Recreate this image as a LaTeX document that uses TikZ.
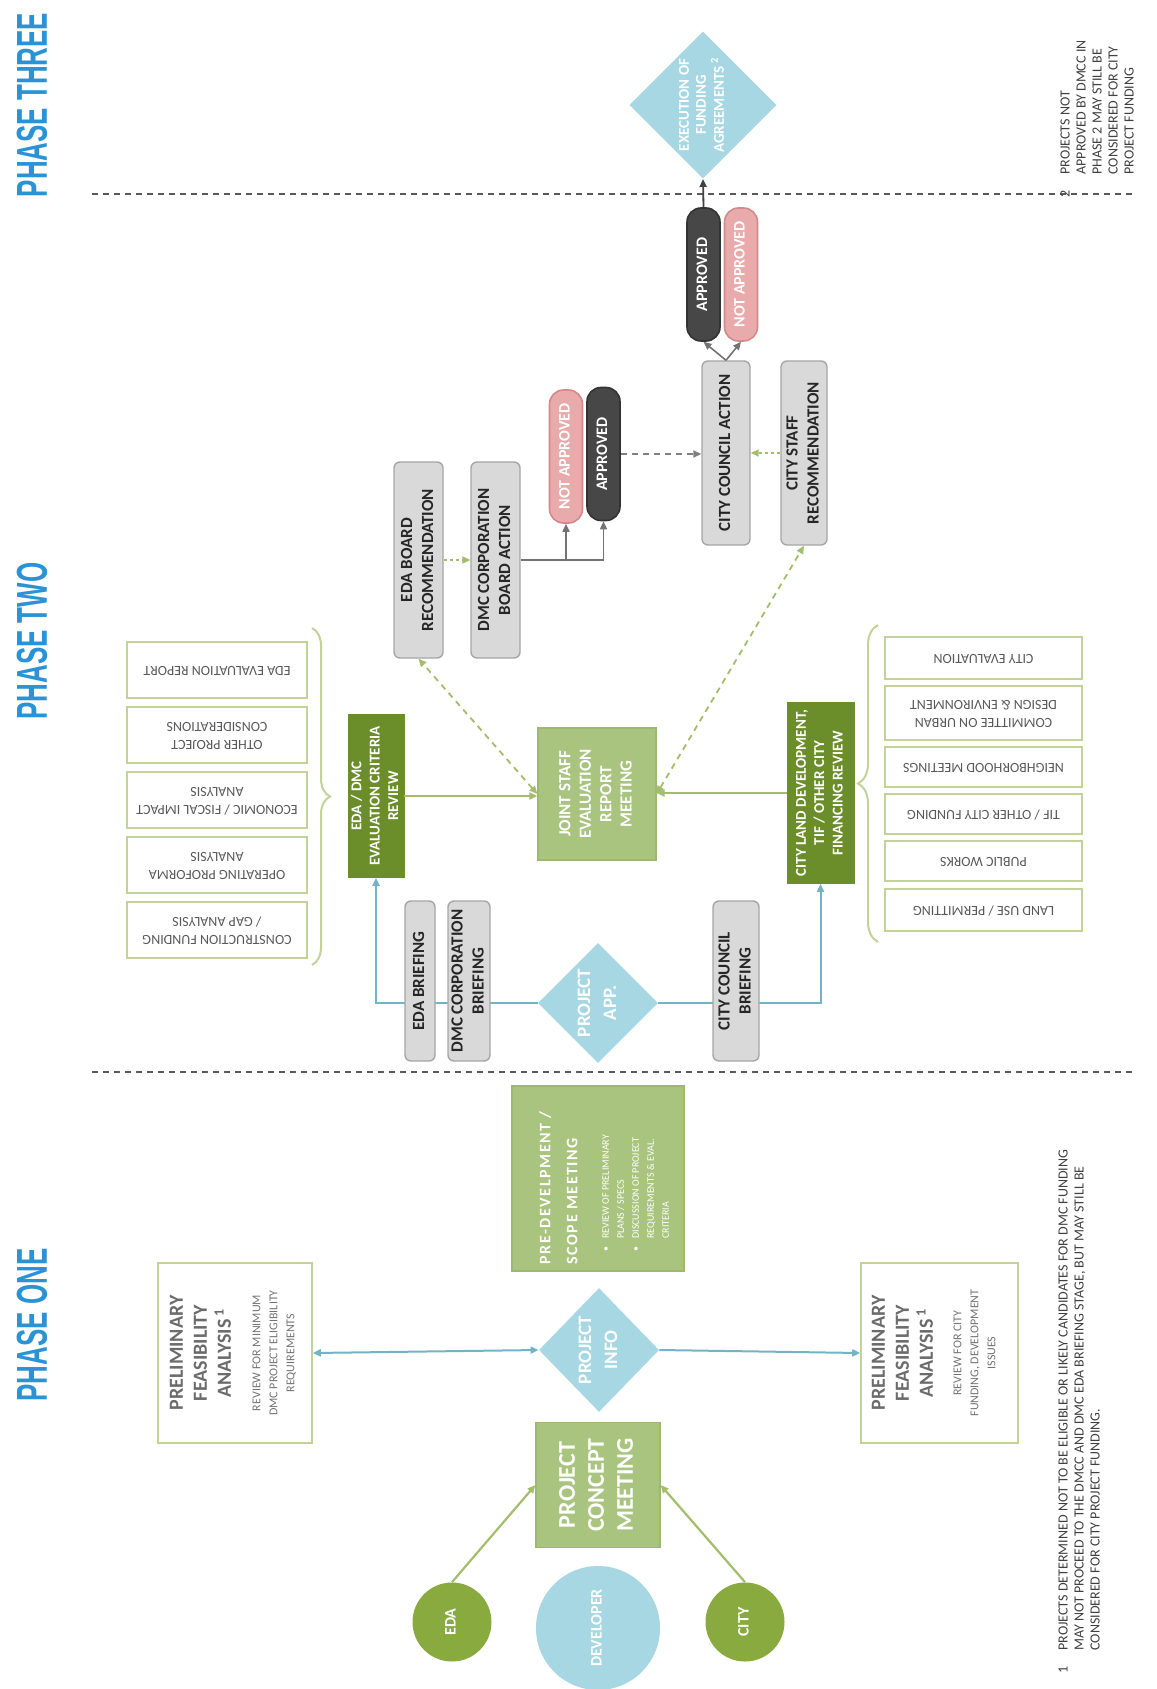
\documentclass[tikz,border=0pt]{standalone}
\usepackage{fontspec}
\usepackage{graphicx}
\setmainfont{Carlito}
\newfontfamily\phasefont{Liberation Sans}[FakeStretch=0.6]
\usetikzlibrary{shapes.geometric,arrows.meta,decorations.pathreplacing}
\pgfdeclarelayer{bg}
\pgfsetlayers{bg,main}
\definecolor{phaseblue}{HTML}{2A93D5}
\definecolor{dkgreen}{HTML}{6B8E2B}
\definecolor{ltgreen}{HTML}{A9C47F}
\definecolor{ltgreenb}{HTML}{9DB873}
\definecolor{circgreen}{HTML}{88AA3F}
\definecolor{ltblue}{HTML}{A7D7E3}
\definecolor{lineblue}{HTML}{72B4C6}
\definecolor{linegreen}{HTML}{A3BE6A}
\definecolor{boxgray}{HTML}{D9D9D9}
\definecolor{boxgrayb}{HTML}{A6A6A6}
\definecolor{darkpill}{HTML}{474747}
\definecolor{pinkpill}{HTML}{E8AAAB}
\definecolor{pinkpillb}{HTML}{D4898B}
\definecolor{listb}{HTML}{C2D39A}
\definecolor{textgray}{HTML}{595959}
\newcommand{\rt}[1]{\rotatebox{90}{\begin{tabular}{@{}c@{}}#1\end{tabular}}}
\newcommand{\rtl}[1]{\rotatebox{90}{\begin{tabular}{@{}l@{}}#1\end{tabular}}}
\newcommand{\ud}[1]{\rotatebox{180}{\begin{tabular}{@{}c@{}}#1\end{tabular}}}
\begin{document}
\begin{tikzpicture}[x=0.5pt,y=-0.5pt,
  phase/.style={text=phaseblue, inner sep=0pt, font=\phasefont\bfseries\fontsize{21.6}{24}\selectfont},
  gbox/.style={draw=boxgrayb, fill=boxgray, rounded corners=3pt, line width=0.7pt, inner sep=0pt, text=black!85, font=\bfseries\fontsize{8.5}{10.5}\selectfont},
  dgbox/.style={fill=dkgreen, draw=dkgreen, inner sep=0pt, text=white, font=\bfseries\fontsize{7.5}{9.2}\selectfont},
  lgbox/.style={fill=ltgreen, draw=ltgreenb, line width=0.6pt, inner sep=0pt, text=white},
  pill/.style={rounded corners=7pt, inner sep=0pt, line width=0.8pt, text=white, font=\bfseries\fontsize{8}{9}\selectfont, minimum width=16.5pt, minimum height=66.5pt},
  okpill/.style={pill, fill=darkpill, draw=black!80},
  nopill/.style={pill, fill=pinkpill, draw=pinkpillb},
  dia/.style={diamond, fill=ltblue, inner sep=0pt, text=white},
  circ/.style={circle, inner sep=0pt, text=white, font=\bfseries\fontsize{8}{9}\selectfont},
  lbox/.style={draw=listb, line width=0.7pt, fill=white, inner sep=0pt, text=textgray, font=\fontsize{7}{8.6}\selectfont},
  fbox/.style={draw=listb, line width=0.8pt, fill=white, inner sep=0pt},
  ftitle/.style={inner sep=0pt, text=black!58, font=\bfseries\fontsize{10}{12}\selectfont},
  fsmall/.style={inner sep=0pt, text=black!55, font=\fontsize{6}{8.5}\selectfont},
  note/.style={inner sep=0pt, text=black!75, font=\fontsize{7}{8}\selectfont},
  bline/.style={draw=lineblue, line width=1pt},
  gline/.style={draw=linegreen, line width=1.1pt},
  gdash/.style={draw=linegreen, line width=0.9pt, dash pattern=on 3pt off 2.5pt},
  gdot/.style={draw=linegreen, line width=1pt, dash pattern=on 1.5pt off 1.5pt},
  grline/.style={draw=black!55, line width=0.8pt},
  grdash/.style={draw=black!50, line width=0.9pt, dash pattern=on 3pt off 2.5pt},
  tip/.style={-{Triangle[length=4pt,width=3.5pt]}},
  tips/.style={{Triangle[length=4pt,width=3.5pt]}-{Triangle[length=4pt,width=3.5pt]}},
  sep/.style={draw=black!65, line width=0.9pt, dash pattern=on 3pt off 2.5pt}]
\useasboundingbox (0,0) rectangle (1156,1689);
\begin{pgfonlayer}{bg}
\fill[white] (0,0) rectangle (1156,1689);
\end{pgfonlayer}

% phase titles
\node[phase] (ph3) at (32,105) {\rotatebox{90}{PHASE THREE}};
\node[phase] (ph2) at (32,641) {\rotatebox{90}{PHASE TWO}};
\node[phase] (ph1) at (32,1325) {\rotatebox{90}{PHASE ONE}};

% separators
\draw[sep] (92,194) -- (1136,194);
\draw[sep] (92,1072) -- (1136,1072);

% ---------- phase one
\node[circ, fill=circgreen, minimum size=39.5pt] (eda) at (452,1622) {\rt{EDA}};
\node[circ, fill=ltblue, minimum size=62pt] (dev) at (598,1628) {\rt{DEVELOPER}};
\node[circ, fill=circgreen, minimum size=39.5pt] (city) at (745,1622) {\rt{CITY}};
\node[lgbox, minimum width=62pt, minimum height=62.5pt, font=\bfseries\fontsize{12}{14.5}\selectfont] (pcm) at (598,1485) {\rt{PROJECT\\CONCEPT\\MEETING}};
\node[dia, minimum width=56pt, minimum height=62pt, font=\bfseries\fontsize{9.5}{13}\selectfont] (pinfo) at (599,1350) {\rt{PROJECT\\INFO}};

\node[fbox, minimum width=77pt, minimum height=90pt] (lfeas) at (235,1353) {};
\node[ftitle] (lfeasT) at (202,1353) {\rt{PRELIMINARY\\FEASIBILITY\\ANALYSIS\,\textsuperscript{1}}};
\node[fsmall] (lfeasS) at (274,1353) {\rt{REVIEW FOR MINIMUM\\DMC PROJECT ELIGIBILITY\\REQUIREMENTS}};
\node[fbox, minimum width=78.5pt, minimum height=90pt] (rfeas) at (939.5,1353) {};
\node[ftitle] (rfeasT) at (904,1353) {\rt{PRELIMINARY\\FEASIBILITY\\ANALYSIS\,\textsuperscript{1}}};
\node[fsmall] (rfeasS) at (975,1353) {\rt{REVIEW FOR CITY\\FUNDING, DEVELOPMENT\\ISSUES}};

\node[lgbox, minimum width=86pt, minimum height=92.5pt] (predev) at (598,1178.5) {};
\node[inner sep=0pt, anchor=south west, text=white, font=\fontsize{8}{13.5}\selectfont\bfseries\addfontfeature{LetterSpace=10}] (predevT) at (531,1265) {\rtl{PRE-DEVELPMENT /\\SCOPE MEETING}};
\node[inner sep=0pt, anchor=south west, text=white, font=\fontsize{5}{7.5}\selectfont] (predevS) at (598,1252) {\rotatebox{90}{\begin{tabular}{@{}l@{\hspace{4pt}}l@{}}\textbullet & REVIEW OF PRELIMINARY\\ & PLANS / SPECS\\ \textbullet & DISCUSSION OF PROJECT\\ & REQUIREMENTS \& EVAL.\\ & CRITERIA\end{tabular}}};

\draw[gline, tip] (eda.north) -- (pcm.west);
\draw[gline, tip] (city.north) -- (pcm.east);
\draw[bline, tips] (lfeas.east) -- (pinfo.west);
\draw[bline, tip] (pinfo.east) -- (rfeas.west);

% ---------- phase two
\node[dia, minimum width=55.5pt, minimum height=57.5pt, font=\bfseries\fontsize{9.5}{13}\selectfont] (papp) at (598,1003) {\rt{PROJECT\\APP.}};
\node[gbox, minimum width=15pt, minimum height=80pt] (edabrief) at (420,981) {\rt{EDA BRIEFING}};
\node[gbox, minimum width=21pt, minimum height=80pt] (dmcbrief) at (469,981) {\rt{DMC CORPORATION\\BRIEFING}};
\node[gbox, minimum width=23pt, minimum height=80pt] (ccbrief) at (736,981) {\rt{CITY COUNCIL\\BRIEFING}};

\node[dgbox, minimum width=28pt, minimum height=81.5pt] (edadmc) at (376,796) {\rt{EDA / DMC\\EVALUATION CRITERIA\\REVIEW}};
\node[dgbox, minimum width=33.5pt, minimum height=90.5pt] (cityland) at (820.5,793) {\rt{CITY LAND DEVELOPMENT,\\TIF / OTHER CITY\\FINANCING REVIEW}};
\node[lgbox, minimum width=59pt, minimum height=66pt, font=\bfseries\fontsize{8.5}{10.2}\selectfont] (joint) at (597,794) {\rt{JOINT STAFF\\EVALUATION\\REPORT\\MEETING}};

\node[lbox, minimum width=90pt, minimum height=28pt] (l1) at (217,670) {\ud{EDA EVALUATION REPORT}};
\node[lbox, minimum width=90pt, minimum height=28pt] (l2) at (217,735) {\ud{OTHER PROJECT\\CONSIDERATIONS}};
\node[lbox, minimum width=90pt, minimum height=28pt] (l3) at (217,800) {\ud{ECONOMIC / FISCAL IMPACT\\ANALYSIS}};
\node[lbox, minimum width=90pt, minimum height=28pt] (l4) at (217,865) {\ud{OPERATING PROFORMA\\ANALYSIS}};
\node[lbox, minimum width=90pt, minimum height=28pt] (l5) at (217,930) {\ud{CONSTRUCTION FUNDING\\/ GAP ANALYSIS}};

\node[lbox, minimum width=98.5pt, minimum height=21pt] (r1) at (983.5,658) {\ud{CITY EVALUATION}};
\node[lbox, minimum width=98.5pt, minimum height=27pt] (r2) at (983.5,713) {\ud{COMMITTEE ON URBAN\\DESIGN \& ENVIRONMENT}};
\node[lbox, minimum width=98.5pt, minimum height=20pt] (r3) at (983.5,767) {\ud{NEIGHBORHOOD MEETINGS}};
\node[lbox, minimum width=98.5pt, minimum height=20pt] (r4) at (983.5,814) {\ud{TIF / OTHER CITY FUNDING}};
\node[lbox, minimum width=98.5pt, minimum height=20pt] (r5) at (983.5,861) {\ud{PUBLIC WORKS}};
\node[lbox, minimum width=98.5pt, minimum height=21pt] (r6) at (983.5,910) {\ud{LAND USE / PERMITTING}};

\draw[draw=listb, line width=1pt, decorate, decoration={brace, amplitude=9pt}] (312,628) -- (312,965);
\draw[draw=listb, line width=1pt, decorate, decoration={brace, amplitude=10pt}] (878,942) -- (878,625);

\node[gbox, minimum width=24.5pt, minimum height=98pt] (edaboard) at (418.5,560) {\rt{EDA BOARD\\RECOMMENDATION}};
\node[gbox, minimum width=24.5pt, minimum height=98pt] (dmccorp) at (495.5,560) {\rt{DMC CORPORATION\\BOARD ACTION}};
\node[nopill] (notapp2) at (566,456.5) {\rt{NOT APPROVED}};
\node[okpill] (app2) at (603.5,454) {\rt{APPROVED}};
\node[gbox, minimum width=24pt, minimum height=92pt] (cca) at (726,453) {\rt{CITY COUNCIL ACTION}};
\node[gbox, minimum width=23pt, minimum height=92pt] (citystaff) at (804,453) {\rt{CITY STAFF\\RECOMMENDATION}};
\node[okpill] (app1) at (703.5,274.5) {\rt{APPROVED}};
\node[nopill] (notapp1) at (741,274.5) {\rt{NOT APPROVED}};

% ---------- phase three
\node[dia, minimum width=73pt, minimum height=73pt, font=\bfseries\fontsize{7.5}{8.5}\selectfont] (exec) at (703,105) {\rt{EXECUTION OF\\FUNDING\\AGREEMENTS\,\textsuperscript{2}}};

% connectors phase two
\begin{pgfonlayer}{bg}
\draw[bline, tip] (papp.west) -| (edadmc.south);
\draw[bline, tip] (papp.east) -| (cityland.south);
\end{pgfonlayer}
\draw[gline, tip] (edadmc.east) -- (edadmc.east -| joint.west);
\draw[gline, tip] (cityland.west) -- (cityland.west -| joint.east);
\draw[gdash, tips] (joint.west) -- (edaboard.south);
\draw[gdash, tips] (joint.east) -- (citystaff.south);
\draw[gdot, tip] (edaboard.east) -- (dmccorp.west);
\draw[grline, tip] (dmccorp.east) -| (app2.south);
\draw[grline, tip] (dmccorp.east -| notapp2.south) -- (notapp2.south);
\draw[grdash, tip] (app2.east) -- (app2.east -| cca.west);
\draw[gdot, tip] (citystaff.west) -- (cca.east);
\draw[grline, tip] (cca.north) -- (app1.south);
\draw[grline, tip] (cca.north) -- (notapp1.south);
\draw[draw=black!75, line width=0.9pt, tip] (app1.north) -- (exec.south);

% footnotes
\node[note, anchor=south west] (fn2) at (1058,198) {\rotatebox{90}{\begin{tabular}{@{}l@{\hspace{8pt}}l@{}}2 & PROJECTS NOT\\ & APPROVED BY DMCC IN\\ & PHASE 2 MAY STILL BE\\ & CONSIDERED FOR CITY\\ & PROJECT FUNDING\end{tabular}}};
\node[note, anchor=south west] (fn1) at (1056,1674) {\rotatebox{90}{\begin{tabular}{@{}l@{\hspace{8pt}}l@{}}1 & PROJECTS DETERMINED NOT TO BE ELIGIBLE OR LIKELY CANDIDATES FOR DMC FUNDING\\ & MAY NOT PROCEED TO THE DMCC AND DMC EDA BRIEFING STAGE, BUT MAY STILL BE\\ & CONSIDERED FOR CITY PROJECT FUNDING.\end{tabular}}};
\end{tikzpicture}
\end{document}
